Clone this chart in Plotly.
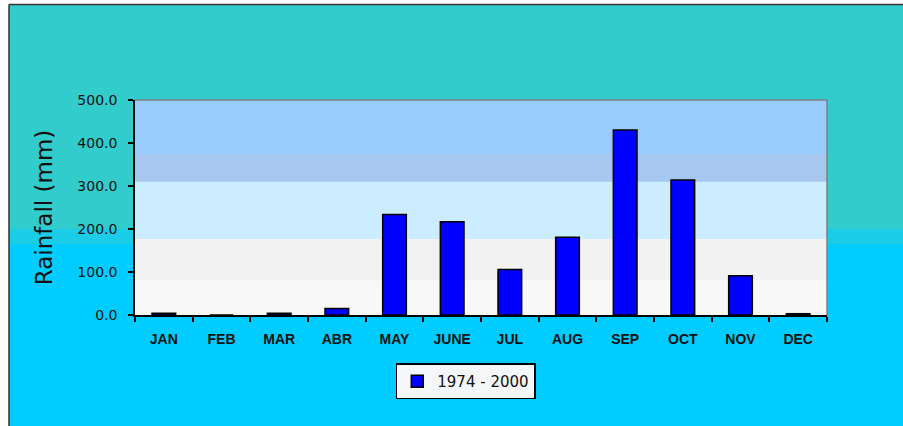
import plotly.graph_objects as go

months = ["JAN", "FEB", "MAR", "ABR", "MAY", "JUNE", "JUL", "AUG", "SEP", "OCT", "NOV", "DEC"]
rainfall = [4, 0, 4, 15, 234, 217, 106, 181, 430, 314, 91, 3]
series_name = "1974 - 2000"
y_ticks = [0, 100, 200, 300, 400, 500]

fig = go.Figure()
fig.add_trace(go.Bar(
    x=months, y=rainfall, name=series_name,
    marker=dict(color="#0000FF", line=dict(color="#000000", width=1.5)),
    showlegend=True,
))

shapes = []
# outer background (paper-referenced)
shapes.append(dict(type="rect", xref="paper", yref="paper", x0=-0.1821, x1=1.2, y0=-0.6, y1=1.4442,
                   fillcolor="#00CCFF", line=dict(width=0), layer="below"))
shapes.append(dict(type="rect", xref="paper", yref="paper", x0=-0.1821, x1=1.2, y0=0.33, y1=1.4442,
                   fillcolor="#1ACCE6", line=dict(width=0), layer="below"))
shapes.append(dict(type="rect", xref="paper", yref="paper", x0=-0.1821, x1=1.2, y0=0.4, y1=1.4442,
                   fillcolor="#33CCCC", line=dict(width=0), layer="below"))
# frame lines (left and top)
shapes.append(dict(type="line", xref="paper", yref="paper", x0=-0.1821, x1=-0.1821, y0=-0.6, y1=1.4442,
                   line=dict(color="#333333", width=1.5), layer="below"))
shapes.append(dict(type="line", xref="paper", yref="paper", x0=-0.1821, x1=1.2, y0=1.4442, y1=1.4442,
                   line=dict(color="#333333", width=1.5), layer="below"))
# plot area bands (each drawn up to the top so no seams show)
bands = [(0, "#F8F8F8"), (80, "#F2F2F2"), (177, "#CCECFF"), (310, "#A6C8F0"), (375, "#99CCFF")]
for b0, c in bands:
    shapes.append(dict(type="rect", xref="x domain", yref="y", x0=0, x1=1, y0=b0, y1=500,
                       fillcolor=c, line=dict(width=0), layer="below"))
# top & right plot border in gray
shapes.append(dict(type="line", xref="x domain", yref="y domain", x0=0, x1=1, y0=1, y1=1,
                   line=dict(color="#808080", width=1.5), layer="above"))
shapes.append(dict(type="line", xref="x domain", yref="y domain", x0=1, x1=1, y0=0, y1=1,
                   line=dict(color="#808080", width=1.5), layer="above"))

fig.update_layout(
    width=903, height=426,
    margin=dict(l=135, r=76, t=100, b=111),
    paper_bgcolor="#FFFFFF",
    plot_bgcolor="#F8F8F8",
    bargap=0.59,
    shapes=shapes,
    showlegend=True,
    legend=dict(
        x=0.478, y=-0.225, xanchor="center", yanchor="top",
        bgcolor="#F4F6F8", bordercolor="#000000", borderwidth=1.5,
        font=dict(family="DejaVu Sans", size=15, color="#111111"),
        itemwidth=30,
    ),
    xaxis=dict(
        showline=True, linecolor="#000000", linewidth=1.5,
        ticks="outside", ticklen=5, tickcolor="#000000", tickwidth=1.5,
        tickson="boundaries", showgrid=False,
        tickfont=dict(family="Liberation Sans", size=14, color="#111111", weight="bold"),
        ticklabelstandoff=10,
    ),
    yaxis=dict(
        range=[0, 500], tickvals=y_ticks, tickformat=".1f",
        showline=True, linecolor="#000000", linewidth=1.5,
        ticks="outside", ticklen=5, tickcolor="#000000", tickwidth=1.5,
        showgrid=False, zeroline=False,
        tickfont=dict(family="DejaVu Sans", size=14, color="#111111"),
        ticklabelstandoff=8,
        title=dict(text="Rainfall (mm)", font=dict(family="DejaVu Sans", size=23, color="#111111"),
                   standoff=18),
    ),
)

fig.write_html(
    "out.html",
    config={"displayModeBar": False},
    post_script="document.body.style.margin='0';document.body.style.overflow='hidden';",
)
